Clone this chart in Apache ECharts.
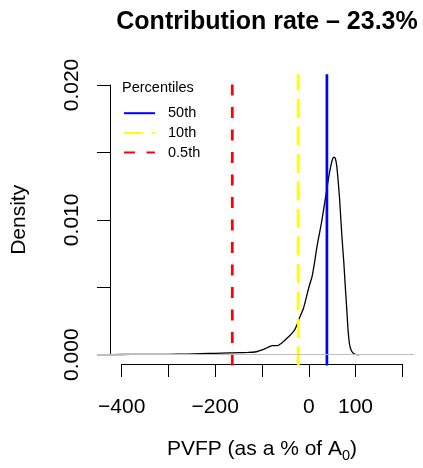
<!DOCTYPE html>
<html>
<head>
<meta charset="utf-8">
<script src="https://cdn.jsdelivr.net/npm/echarts@6/dist/echarts.min.js"></script>
<style>
  html, body { margin: 0; padding: 0; background: #fff; }
  #chart { width: 423px; height: 468px; }
</style>
</head>
<body>
<div id="chart"></div>
<script>
// density of PVFP (x as % of A0)
const pvfp = [-452, -420, -380, -340, -300, -260, -230, -200, -170, -150, -130, -115, -105, -95, -85, -78, -72, -66, -60, -54,
  -47, -40, -34, -29, -24, -20, -15, -11, -6, -1, 3, 7, 12, 17, 22, 28, 33, 39, 43, 47,
  51, 54, 57, 60, 63, 66, 69, 72, 75, 78, 81, 84, 87, 90, 94, 98, 103, 108];
const density = [0.00001, 0.00001, 0.00002, 0.00002, 0.00003, 0.00005, 0.00008, 0.0001, 0.00013, 0.00015, 0.00017, 0.0002, 0.0003, 0.00042, 0.00058, 0.00068, 0.00068, 0.00068, 0.0008, 0.00097,
  0.0012, 0.00142, 0.00165, 0.0019, 0.0023, 0.00268, 0.0031, 0.00345, 0.0041, 0.0048, 0.0053, 0.00575, 0.0067, 0.00785, 0.0088, 0.0099, 0.011, 0.0123, 0.0132, 0.01395,
  0.0145, 0.01465, 0.01455, 0.014, 0.0129, 0.0116, 0.0099, 0.0083, 0.0069, 0.0052, 0.0036, 0.0019, 0.00085, 0.0004, 0.00015, 0.00005, 0.00001, 0];

// percentile lines
const percentileNames = ['50th', '10th', '0.5th'];
const percentileValues = [39, -22, -163];
const percentileColors = ['#0000ff', '#ffff00', '#ff0000'];
const percentileDash = ['solid', [19, 8.5], [11, 11.5]];

// axis ticks
const xTicks = [-400, -300, -200, -100, 0, 100, 200];
const xTickLabels = ['\u2212400', '', '\u2212200', '', '0', '100', ''];
const yTicks = [0, 0.005, 0.01, 0.015, 0.02];
const yTickLabels = ['0.000', '', '0.010', '', '0.020'];

// plot region (R adds 4% on each side)
const X_MIN = -452, X_MAX = 225;
const Y_MIN = -0.0008, Y_MAX = 0.0208;

const FONT = '"Liberation Sans", Arial, sans-serif';

function tickLabel(ticks, labels) {
  return function (v) {
    for (let i = 0; i < ticks.length; i++) {
      if (Math.abs(ticks[i] - v) < 1e-9) return labels[i];
    }
    return '';
  };
}

const chart = echarts.init(document.getElementById('chart'));

const series = [
  {
    name: 'density',
    type: 'line',
    xAxisIndex: 0,
    yAxisIndex: 0,
    data: pvfp.map((x, i) => [x, density[i]]),
    symbol: 'none',
    smooth: 0.2,
    lineStyle: { color: '#000', width: 1.3 },
    markLine: {
      silent: true,
      symbol: ['none', 'none'],
      label: { show: false },
      lineStyle: { color: '#bebebe', type: 'solid', width: 1 },
      data: [{ yAxis: 0 }]
    },
    z: 3
  }
];

percentileNames.forEach((name, i) => {
  series.push({
    name: name,
    type: 'line',
    xAxisIndex: 0,
    yAxisIndex: 0,
    data: [[percentileValues[i], Y_MIN], [percentileValues[i], Y_MAX]],
    symbol: 'none',
    lineStyle: { color: percentileColors[i], width: 2.7, type: percentileDash[i], cap: 'butt' },
    z: 4
  });
});

const option = {
  animation: false,
  backgroundColor: '#fff',
  textStyle: { fontFamily: FONT },
  title: [
    {
      text: 'Contribution rate \u2013 23.3%',
      left: 262,
      top: 5,
      textAlign: 'center',
      textStyle: { fontFamily: FONT, fontSize: 25, fontWeight: 'bold', color: '#000' }
    },
    {
      text: 'Percentiles',
      left: 122,
      top: 80,
      padding: 0,
      textStyle: { fontFamily: FONT, fontSize: 14.5, fontWeight: 'normal', color: '#000' }
    }
  ],
  legend: {
    data: percentileNames,
    orient: 'vertical',
    left: 123,
    top: 105.7,
    padding: 0,
    itemWidth: 31,
    itemHeight: 14,
    itemGap: 4.7,
    selectedMode: false,
    itemStyle: { color: 'rgba(0,0,0,0)', borderColor: 'rgba(0,0,0,0)', borderWidth: 0 },
    textStyle: { fontFamily: FONT, fontSize: 14.5, color: '#000', padding: [0, 0, 0, 8] }
  },
  grid: [
    { left: 97, right: 9, top: 74.2, bottom: 102.5 },
    { left: 121.7, right: 20.7, top: 74.2, bottom: 103 },
    { left: 110, right: 9, top: 85, bottom: 113.3 }
  ],
  xAxis: [
    { gridIndex: 0, type: 'value', min: X_MIN, max: X_MAX, show: false },
    {
      gridIndex: 1, type: 'value', min: -400, max: 200, interval: 100,
      axisLine: { show: true, lineStyle: { color: '#000', width: 1 } },
      axisTick: { show: true, length: 13, lineStyle: { color: '#000', width: 1 } },
      splitLine: { show: false },
      axisLabel: {
        margin: 33, fontSize: 21, color: '#000', fontFamily: FONT,
        showMinLabel: true, showMaxLabel: true,
        formatter: tickLabel(xTicks, xTickLabels)
      },
      name: 'PVFP (as a % of A{sub|0})',
      nameLocation: 'middle',
      nameGap: 72,
      nameTextStyle: {
        fontFamily: FONT, fontSize: 21, color: '#000',
        rich: { sub: { fontFamily: FONT, fontSize: 14.5, color: '#000', verticalAlign: 'bottom', padding: [12, 0, 0, 0] } }
      }
    },
    { gridIndex: 2, type: 'value', min: 0, max: 1, show: false }
  ],
  yAxis: [
    { gridIndex: 0, type: 'value', min: Y_MIN, max: Y_MAX, show: false },
    { gridIndex: 1, type: 'value', min: 0, max: 1, show: false },
    {
      gridIndex: 2, type: 'value', min: 0, max: 0.02, interval: 0.005,
      axisLine: { show: true, lineStyle: { color: '#000', width: 1 } },
      axisTick: { show: true, length: 13, lineStyle: { color: '#000', width: 1 } },
      splitLine: { show: false },
      axisLabel: {
        margin: 27, fontSize: 21, color: '#000', fontFamily: FONT, rotate: 90,
        showMinLabel: true, showMaxLabel: true,
        formatter: tickLabel(yTicks, yTickLabels)
      },
      name: 'Density',
      nameLocation: 'middle',
      nameGap: 80,
      nameRotate: 90,
      nameTextStyle: { fontFamily: FONT, fontSize: 21, color: '#000' }
    }
  ],
  series: series
};

chart.setOption(option);
</script>
</body>
</html>
